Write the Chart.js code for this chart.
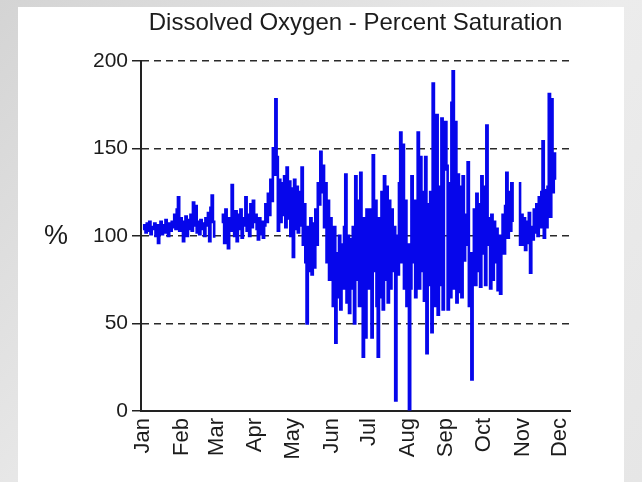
<!DOCTYPE html>
<html>
<head>
<meta charset="utf-8">
<script src="https://cdn.jsdelivr.net/npm/chart.js@4.4.1/dist/chart.umd.min.js"></script>
<style>
    html, body { margin: 0; padding: 0; }
    body {
        width: 642px;
        height: 482px;
        overflow: hidden;
        position: relative;
        background: linear-gradient(135deg, #d4d4d4 0%, #ececec 55%, #e6e6e6 100%);
    }
    .panel { position: absolute; left: 18px; top: 7px; width: 606px; height: 480px; background: #fff; }
    .chart-box { position: absolute; left: 0; top: 0; width: 642px; height: 482px; }
</style>
</head>
<body>
<div class="panel"></div>
<div class="chart-box"><canvas id="doChart"></canvas></div>
<script>
const monthLabels = ['Jan', 'Feb', 'Mar', 'Apr', 'May', 'Jun', 'Jul', 'Aug', 'Sep', 'Oct', 'Nov', 'Dec'];
const monthStartDays = [0, 31, 59, 90, 120, 151, 181, 212, 243, 273, 304, 334];

// daily % saturation (null = no data)
const jan = [104, 106, 102, 107, 103, 108, 101, 105, 104, 107, 100, 106, 96, 103, 108, 101, 106, 102, 109, 104, 100, 107, 103, 108, 105, 112, 104, 115, 122, 103, 110];
const feb = [108, 97, 105, 111, 100, 109, 104, 112, 103, 119, 106, 117, 102, 108, 101, 109, 104, 107, 100, 110, 106, 113, 97, 116, 123, 108, 99, null];
const mar = [null, null, null, null, 108, 112, 96, 115, 101, 93, 110, 103, 129, 108, 100, 114, 97, 112, 104, 115, 99, 110, 106, 122, 103, 112, 100, 118, 105, 120, 108];
const apr = [112, 104, 98, 110, 101, 108, 99, 106, 118, 108, 124, 112, 132, 120, 150, 135, 178, 145, 103, 132, 108, 130, 112, 134, 105, 139, 110, 131, 100, 127];
const may = [88, 132, 104, 128, 102, 125, 106, 139, 95, 118, 85, 50, 105, 80, 110, 78, 107, 82, 115, 95, 130, 118, 148, 125, 140, 105, 130, 85, 120, 75, 110];
const jun = [95, 60, 105, 39, 90, 65, 100, 58, 95, 70, 105, 135, 62, 100, 56, 98, 70, 105, 50, 134, 75, 120, 60, 136, 80, 31, 110, 42, 115, 70];
const jul = [70, 115, 42, 146, 80, 120, 60, 31, 110, 65, 125, 58, 134, 75, 128, 62, 120, 70, 115, 80, 105, 6, 100, 78, 130, 159, 85, 152, 70, 120, 60];
const aug = [95, 1, 70, 134, 85, 120, 65, 110, 159, 70, 145, 80, 125, 63, 145, 33, 118, 72, 125, 45, 187, 60, 140, 169, 55, 128, 72, 167, 58, 138, 165];
const sep = [140, 58, 130, 65, 176, 194, 70, 165, 62, 135, 68, 128, 65, 134, 86, 112, 95, 142, 60, 90, 18, 75, 115, 72, 124, 80, 118, 71, 134, 90];
const oct = [128, 72, 163, 95, 110, 70, 112, 75, 108, 85, 104, 69, 100, 67, 95, 112, 90, 117, 136, 99, 125, 103, 130, 108, null, null, null, null, 130, 95, 112];
const nov = [95, 110, 92, 108, 96, 113, 79, 105, 98, 115, 102, 118, 100, 122, 105, 125, 154, 99, 126, 105, 128, 181, 111, 178, 125, 147, 132];

const doPercent = [].concat(jan, feb, mar, apr, may, jun, jul, aug, sep, oct, nov);
const points = doPercent.map((v, i) => ({ x: i, y: v }));

const fontFamily = "'Liberation Sans', Arial, sans-serif";
const inkColor = '#1c1c1c';

const percentLabelPlugin = {
    id: 'percentLabel',
    afterDraw(chart) {
        const { ctx, chartArea, scales } = chart;
        ctx.save();
        ctx.font = `27px ${fontFamily}`;
        ctx.fillStyle = inkColor;
        ctx.textAlign = 'center';
        ctx.textBaseline = 'middle';
        ctx.fillText('%', chartArea.left - 85, scales.y.getPixelForValue(100) + 1);
        ctx.restore();
    },
};

new Chart(document.getElementById('doChart'), {
    type: 'line',
    data: {
        datasets: [{
            label: 'Dissolved Oxygen',
            data: points,
            borderColor: 'rgb(6, 6, 235)',
            borderWidth: 2.6,
            pointRadius: 0,
            stepped: true,
            spanGaps: false,
        }],
    },
    options: {
        responsive: true,
        maintainAspectRatio: false,
        animation: false,
        events: [],
        layout: { padding: { top: 7, right: 72, left: 0, bottom: 0 } },
        scales: {
            x: {
                type: 'linear',
                min: -1.6,
                max: 342,
                afterBuildTicks(scale) {
                    scale.ticks = monthStartDays.map((d) => ({ value: d }));
                },
                afterFit(scale) { scale.height = 71; },
                ticks: {
                    autoSkip: false,
                    minRotation: 90,
                    maxRotation: 90,
                    padding: 7,
                    color: inkColor,
                    font: { family: fontFamily, size: 22 },
                    callback: (value) => monthLabels[monthStartDays.indexOf(value)] ?? '',
                },
                grid: { display: false, drawTicks: false },
                border: { display: true, color: '#222', width: 2 },
            },
            y: {
                min: 0,
                max: 200,
                afterFit(scale) { scale.width = 141; },
                ticks: {
                    stepSize: 50,
                    padding: 4,
                    color: inkColor,
                    font: { family: fontFamily, size: 21 },
                },
                grid: {
                    color: '#2a2a2a',
                    lineWidth: 1.5,
                    tickLength: 9,
                    tickColor: '#222',
                    tickWidth: 1.5,
                    tickBorderDash: [],
                },
                border: { display: true, color: '#222', width: 2, dash: [7, 5] },
            },
        },
        plugins: {
            legend: { display: false },
            tooltip: { enabled: false },
            title: {
                display: true,
                text: 'Dissolved Oxygen - Percent Saturation',
                fullSize: false,
                color: inkColor,
                font: { family: fontFamily, size: 24, weight: 'normal' },
                padding: { top: 2, bottom: 23 },
            },
        },
    },
    plugins: [percentLabelPlugin],
});
</script>
</body>
</html>
